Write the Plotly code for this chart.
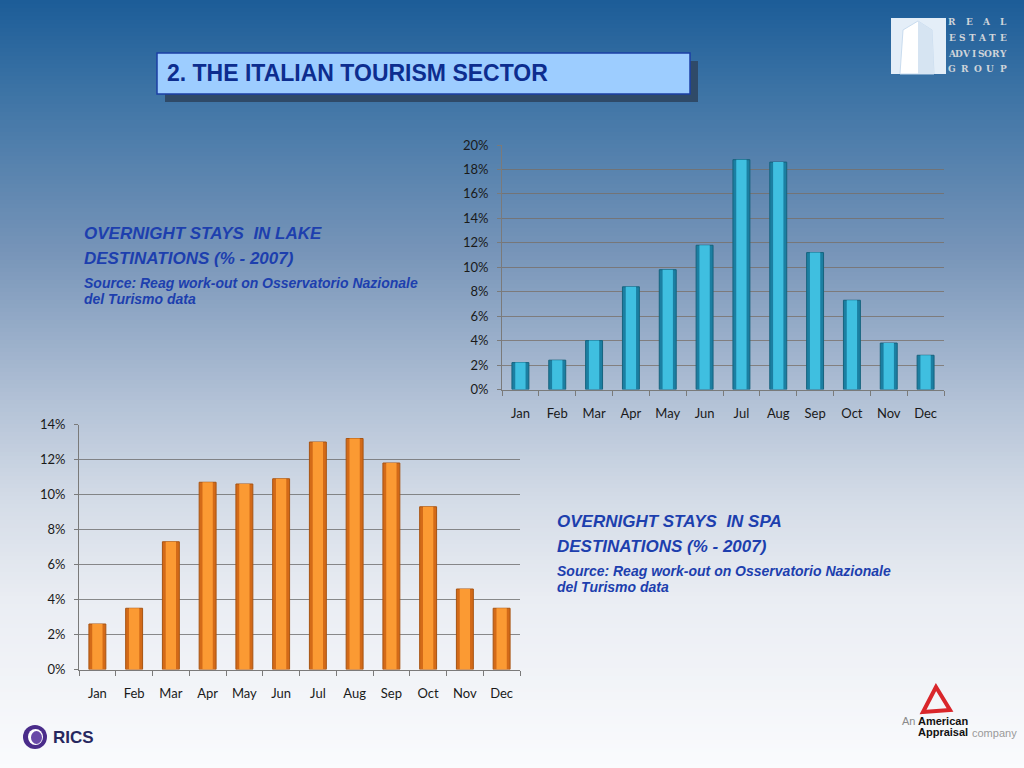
import plotly.graph_objects as go

# ---------------- data ----------------
months = ["Jan", "Feb", "Mar", "Apr", "May", "Jun", "Jul", "Aug", "Sep", "Oct", "Nov", "Dec"]
lake_values = [2.2, 2.4, 4.0, 8.4, 9.8, 11.8, 18.8, 18.6, 11.2, 7.3, 3.8, 2.8]
spa_values = [2.6, 3.5, 7.3, 10.7, 10.6, 10.9, 13.0, 13.2, 11.8, 9.3, 4.6, 3.5]
lake_ticks = [0, 2, 4, 6, 8, 10, 12, 14, 16, 18, 20]
spa_ticks = [0, 2, 4, 6, 8, 10, 12, 14]
lake_ticktext = [f"{v}%" for v in lake_ticks]
spa_ticktext = [f"{v}%" for v in spa_ticks]

W, H = 1024, 768


def px(x):
    return x / W


def py(y):
    return 1 - y / H


fig = go.Figure()

# ---- lake chart (top, blue) ----
fig.add_trace(go.Bar(x=months, y=lake_values, width=0.46, marker=dict(color="#1b7fa2", line=dict(color="#16637e", width=1)),
                     xaxis="x", yaxis="y", hoverinfo="skip", showlegend=False))
fig.add_trace(go.Bar(x=months, y=lake_values, width=0.28, marker=dict(color="#3fbfe0", line=dict(width=0)),
                     xaxis="x", yaxis="y", showlegend=False))

# ---- spa chart (bottom, orange) ----
fig.add_trace(go.Bar(x=months, y=spa_values, width=0.46, marker=dict(color="#d36a18", line=dict(color="#a85412", width=1)),
                     xaxis="x2", yaxis="y2", hoverinfo="skip", showlegend=False))
fig.add_trace(go.Bar(x=months, y=spa_values, width=0.28, marker=dict(color="#fb9a33", line=dict(width=0)),
                     xaxis="x2", yaxis="y2", showlegend=False))

axis_font = dict(family="Lato, Open Sans, sans-serif", size=13, color="#1a1a1a")

common_x = dict(type="category", tickson="boundaries", ticks="outside", ticklen=5, tickcolor="#7a7a7a",
                showline=True, linecolor="#7a7a7a", linewidth=1, showgrid=False, tickfont=axis_font,
                ticklabelstandoff=12, fixedrange=True, automargin=False)
common_y = dict(showline=True, linecolor="#7a7a7a", linewidth=1, showgrid=True, gridwidth=1,
                ticks="outside", ticklen=4, tickcolor="#7a7a7a", tickfont=axis_font,
                zeroline=False, ticklabelstandoff=6, fixedrange=True, tickmode="array", automargin=False)

fig.update_layout(
    width=W, height=H,
    margin=dict(l=0, r=0, t=0, b=0, pad=0, autoexpand=False),
    paper_bgcolor="white",
    plot_bgcolor="rgba(0,0,0,0)",
    barmode="overlay",
    showlegend=False,
    xaxis=dict(common_x, domain=[px(502), px(944)], anchor="y"),
    yaxis=dict(common_y, domain=[py(389.5), py(145)], anchor="x", range=[0, 20], tickvals=lake_ticks,
               ticktext=lake_ticktext, gridcolor="rgba(120,110,100,0.75)"),
    xaxis2=dict(common_x, domain=[px(79), px(520)], anchor="y2"),
    yaxis2=dict(common_y, domain=[py(669.5), py(424.5)], anchor="x2", range=[0, 14], tickvals=spa_ticks,
                ticktext=spa_ticktext, gridcolor="rgba(110,110,110,0.8)"),
)

# ---------------- background gradient ----------------
stops = [(0, (28, 92, 152)), (90, (60, 115, 165)), (250, (118, 148, 184)), (400, (178, 193, 214)),
         (500, (212, 220, 231)), (600, (234, 237, 243)), (768, (250, 251, 253))]


def bg_color(y):
    for (y0, c0), (y1, c1) in zip(stops[:-1], stops[1:]):
        if y0 <= y <= y1:
            t = (y - y0) / (y1 - y0)
            return "rgb(%d,%d,%d)" % tuple(round(a + (b - a) * t) for a, b in zip(c0, c1))
    return "rgb(250,251,253)"


shapes = []
step = 4
for y in range(0, H, step):
    shapes.append(dict(type="rect", xref="paper", yref="paper", x0=0, x1=1, y0=py(y + step + 1.5), y1=py(y),
                       fillcolor=bg_color(y + step / 2), line=dict(width=0), layer="below"))

# title box with shadow
shapes.append(dict(type="rect", xref="paper", yref="paper", x0=px(165), x1=px(698), y0=py(102), y1=py(61),
                   fillcolor="#2f4a68", line=dict(width=0), layer="below"))
shapes.append(dict(type="rect", xref="paper", yref="paper", x0=px(157), x1=px(690), y0=py(94), y1=py(53),
                   fillcolor="#9dcdff", line=dict(color="#1b3fa5", width=1.5), layer="below"))

# top-right logo: building picture
shapes.append(dict(type="rect", xref="paper", yref="paper", x0=px(891), x1=px(946), y0=py(74), y1=py(18),
                   fillcolor="#e4eef8", line=dict(width=0), layer="above"))
shapes.append(dict(type="path", xref="paper", yref="paper",
                   path="M %f %f L %f %f L %f %f L %f %f L %f %f Z" % (px(900), py(74), px(903), py(30), px(918), py(21),
                                                                       px(932), py(30), px(934), py(74)),
                   fillcolor="#ffffff", line=dict(color="#c9dcef", width=1), layer="above"))
shapes.append(dict(type="path", xref="paper", yref="paper",
                   path="M %f %f L %f %f L %f %f L %f %f Z" % (px(918), py(74), px(918), py(21), px(932), py(30), px(934), py(74)),
                   fillcolor="#d6e4f2", line=dict(width=0), layer="above"))

# RICS logo circle
shapes.append(dict(type="circle", xref="paper", yref="paper", x0=px(23), x1=px(47), y0=py(749), y1=py(725),
                   fillcolor="#4a2c8a", line=dict(width=0), layer="above"))
shapes.append(dict(type="circle", xref="paper", yref="paper", x0=px(28), x1=px(43), y0=py(745), y1=py(729),
                   fillcolor="#ffffff", line=dict(width=0), layer="above"))
shapes.append(dict(type="circle", xref="paper", yref="paper", x0=px(31), x1=px(42), y0=py(744), y1=py(731),
                   fillcolor="#6a4aa8", line=dict(width=0), layer="above"))

# American Appraisal triangle
shapes.append(dict(type="path", xref="paper", yref="paper",
                   path="M %f %f L %f %f L %f %f Z" % (px(936), py(687), px(923), py(712), px(950), py(710)),
                   fillcolor="rgba(0,0,0,0)", line=dict(color="#d9262b", width=4), layer="above"))

fig.update_layout(shapes=shapes)

# ---------------- texts ----------------
ann = []


def text(x, y, s, size, color, bold=True, italic=False, family="Liberation Sans, Arial, sans-serif",
         xanchor="left"):
    ann.append(dict(x=px(x), y=py(y), xref="paper", yref="paper", text=s, showarrow=False,
                    xanchor=xanchor, yanchor="middle",
                    font=dict(family=family, size=size, color=color, weight="bold" if bold else "normal",
                              style="italic" if italic else "normal")))


text(165, 73, "2. THE ITALIAN TOURISM SECTOR", 23, "#0d2d8f")

blue = "#1d3fae"
text(82, 233, "OVERNIGHT STAYS  IN LAKE", 17, blue, italic=True)
text(82, 258, "DESTINATIONS (% - 2007)", 17, blue, italic=True)
text(82, 283, "Source: Reag work-out on Osservatorio Nazionale", 14, blue, italic=True)
text(82, 299, "del Turismo data", 14, blue, italic=True)

text(555, 521, "OVERNIGHT STAYS  IN SPA", 17, blue, italic=True)
text(555, 546, "DESTINATIONS (% - 2007)", 17, blue, italic=True)
text(555, 571, "Source: Reag work-out on Osservatorio Nazionale", 14, blue, italic=True)
text(555, 587, "del Turismo data", 14, blue, italic=True)

# top-right logo text (letters spread over the same width on every line)
for yy, word in [(22, "REAL"), (38, "ESTATE"), (54, "ADVISORY"), (69, "GROUP")]:
    n = len(word)
    for i, ch in enumerate(word):
        cx = 952 + (1003 - 952) * (i / (n - 1))
        text(cx, yy, ch, 9, "#cfd4da", family="DejaVu Serif, serif", xanchor="center")

# RICS logo text
text(51, 737, "RICS", 17, "#27275f")

# American Appraisal text
text(900, 721, "An", 11, "#8a8a8a", bold=False)
text(916, 721, "American", 11, "#111111")
text(916, 732, "Appraisal", 11, "#111111")
text(970, 733, "company", 11, "#9a9a9a", bold=False)

fig.update_layout(annotations=ann)

fig.write_html("out.html", config={"displayModeBar": False, "staticPlot": True},
               post_script="document.documentElement.style.margin='0';document.body.style.margin='0';"
                           "document.body.style.padding='0';document.body.style.overflow='hidden';")
